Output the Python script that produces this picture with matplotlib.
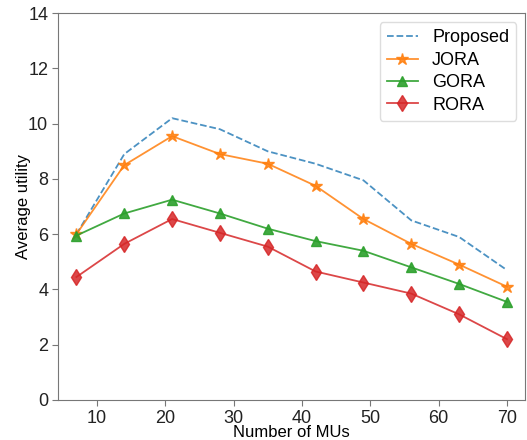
import matplotlib
matplotlib.use("Agg")
import matplotlib.pyplot as plt

plt.rcParams['font.family'] = ['Liberation Sans', 'DejaVu Sans']

num_mus = [7, 14, 21, 28, 35, 42, 49, 56, 63, 70]
proposed = [6.0, 8.9, 10.2, 9.8, 9.0, 8.55, 7.95, 6.5, 5.9, 4.7]
jora = [6.0, 8.5, 9.55, 8.9, 8.55, 7.75, 6.55, 5.65, 4.9, 4.1]
gora = [5.95, 6.75, 7.25, 6.75, 6.2, 5.75, 5.4, 4.8, 4.2, 3.55]
rora = [4.45, 5.65, 6.55, 6.05, 5.55, 4.65, 4.25, 3.85, 3.1, 2.2]

fig = plt.figure(figsize=(5.27, 4.4), dpi=100)
ax = fig.add_axes([0.110, 0.091, 0.887, 0.879])

ax.plot(num_mus, proposed, '--', color='#1f77b4', alpha=0.8, lw=1.3, label='Proposed')
ax.plot(num_mus, jora, '-', marker='*', ms=9, color='#ff7f0e', alpha=0.85, lw=1.3, label='JORA')
ax.plot(num_mus, gora, '-', marker='^', ms=7, color='#2ca02c', alpha=0.9, lw=1.3, label='GORA')
ax.plot(num_mus, rora, '-', marker='d', ms=8, color='#d62728', alpha=0.85, lw=1.3, label='RORA')

ax.set_xlim(4.3, 72.7)
ax.set_ylim(0, 14)
ax.set_xticks([10, 20, 30, 40, 50, 60, 70])
ax.set_yticks([0, 2, 4, 6, 8, 10, 12, 14])
ax.tick_params(labelsize=13, colors='#222222', length=4, pad=3)
for s in ax.spines.values():
    s.set_color('#777777')
ax.tick_params(axis='both', color='#777777')
ax.set_xlabel('Number of MUs', fontsize=12, labelpad=-1)
ax.set_ylabel('Average utility', fontsize=12, labelpad=-2)
ax.legend(loc='upper right', fontsize=13, framealpha=1, edgecolor='#dddddd',
          handlelength=1.7, labelspacing=0.3)

fig.savefig('out.png', dpi=100)
